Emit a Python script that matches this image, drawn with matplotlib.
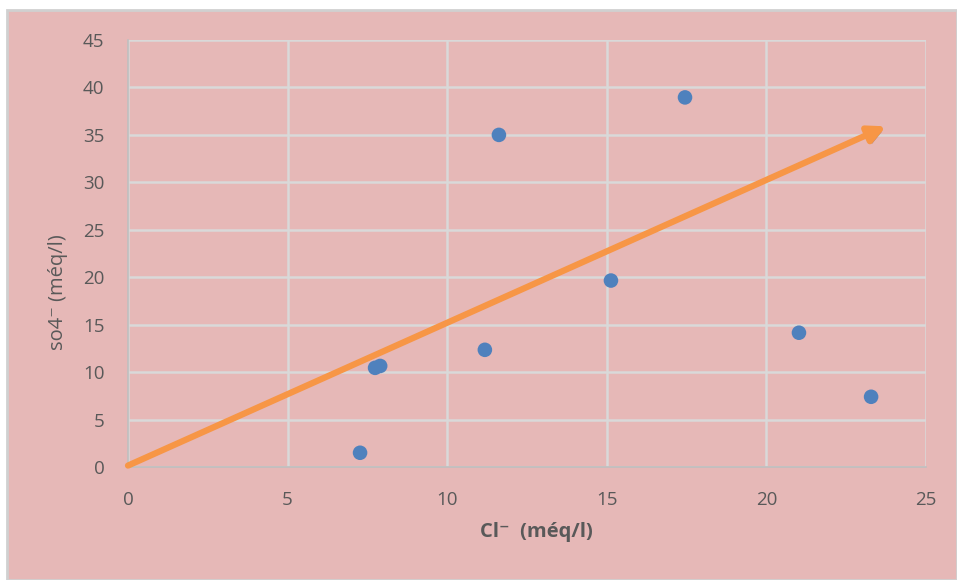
import matplotlib
matplotlib.use("Agg")
import matplotlib.pyplot as plt
from matplotlib.patches import Rectangle
import matplotlib.patheffects as pe

cl = [7.27, 7.74, 7.90, 11.18, 11.62, 15.13, 17.45, 21.02, 23.28]
so4 = [1.5, 10.45, 10.65, 12.35, 35.0, 19.65, 38.95, 14.15, 7.4]
trend_x = [0.0, 23.75]
trend_y = [0.15, 35.9]
xticks = [0, 5, 10, 15, 20, 25]
yticks = [0, 5, 10, 15, 20, 25, 30, 35, 40, 45]

W, H = 957, 580
fig = plt.figure(figsize=(W / 100, H / 100), dpi=100)
fig.patch.set_facecolor("white")
bg = "#E6B8B7"
rect = Rectangle((7 / W, 0), 1 - 7 / W, 1 - 10 / H, transform=fig.transFigure,
                 facecolor=bg, edgecolor="#D0D0D0", linewidth=2, zorder=-10)
fig.patches.append(rect)

fam = ["Open Sans", "DejaVu Sans"]
ax = fig.add_axes([128 / W, (H - 467) / H, (926 - 128) / W, (467 - 40) / H])
ax.set_zorder(5)
ax.patch.set_alpha(0)
ax.set_xlim(0, 25)
ax.set_ylim(0, 45)
ax.set_xticks(xticks)
ax.set_yticks(yticks)
ax.grid(True, color="#D9D9D9", linewidth=1.8)
ax.set_axisbelow(True)
for s in ["top", "right"]:
    ax.spines[s].set_visible(False)
for s in ["left", "bottom"]:
    ax.spines[s].set_color("#BFBFBF")
    ax.spines[s].set_linewidth(1.2)
ax.tick_params(length=0, labelsize=13.5, labelcolor="#595959")
ax.tick_params(axis="x", pad=17)
ax.tick_params(axis="y", pad=17)
for lab in ax.get_xticklabels() + ax.get_yticklabels():
    lab.set_fontfamily(fam)

ax.scatter(cl, so4, s=110, color="#4F81BD", edgecolors="none", zorder=3)

ann = ax.annotate("", xy=(trend_x[1], trend_y[1]), xytext=(trend_x[0], trend_y[0]),
                  arrowprops=dict(arrowstyle="-|>,head_length=1.0,head_width=0.5",
                                  color="#F79646", lw=4.5, shrinkA=0, shrinkB=0),
                  zorder=4)
ann.arrow_patch.set_path_effects([pe.SimplePatchShadow(offset=(1.5, -2), alpha=0.35), pe.Normal()])

ax.set_xlabel("Cl\u207b  (méq/l)", fontsize=14.5, fontweight="bold", color="#595959",
              fontfamily=fam)
ax.set_ylabel("so4\u207b (méq/l)", fontsize=14.5, color="#595959", fontfamily=fam)
ax.xaxis.set_label_coords((536 - 128) / 798, -(532 - 467) / 427)
ax.yaxis.set_label_coords((58 - 128) / 798, (467 - 292) / 427)
ax.xaxis.label.set_va("center")
ax.yaxis.label.set_va("center")

fig.savefig("out.png", dpi=100, facecolor=fig.get_facecolor())
